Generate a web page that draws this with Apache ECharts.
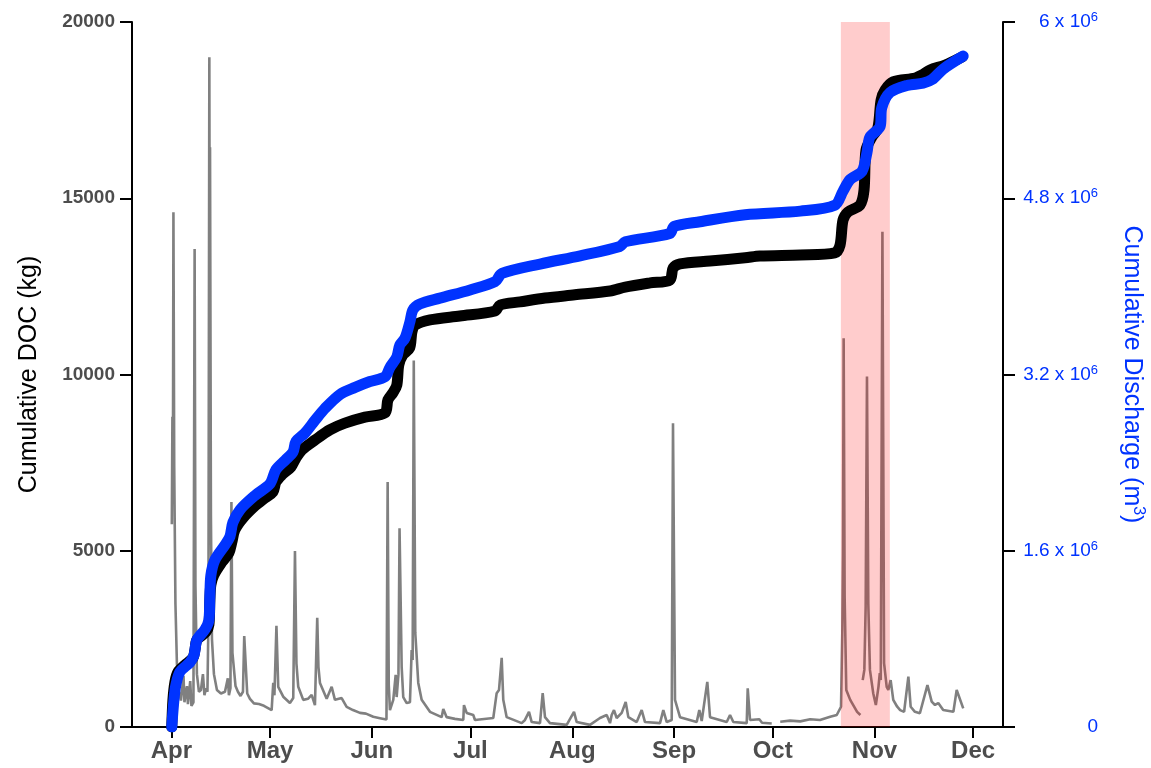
<!DOCTYPE html>
<html>
<head>
<meta charset="utf-8">
<script src="https://cdn.jsdelivr.net/npm/echarts@6/dist/echarts.min.js"></script>
<style>
  html, body { margin: 0; padding: 0; background: #fff; }
  #chart { width: 1151px; height: 768px; }
</style>
</head>
<body>
<div id="chart"></div>
<script>
// x values are days since 1 April
const monthStarts = [0, 30, 61, 91, 122, 153, 183, 214, 244];
const monthLabels = ['Apr', 'May', 'Jun', 'Jul', 'Aug', 'Sep', 'Oct', 'Nov', 'Dec'];
const rightTickLabels = ['0', '1.6', '3.2', '4.8', '6'];

// shaded storm window (days since 1 April)
const shadeStart = 203.75;
const shadeEnd = 218.66;

// instantaneous DOC signal (grey), null = gap in record
const docSignal = [
  [0.12, 5750], [0.30, 8800], [0.46, 7400], [0.61, 14600], [0.85, 7400], [1.22, 3500],
  [1.67, 1800], [2.28, 1000], [2.89, 750], [3.68, 1450], [3.96, 700], [4.41, 1000],
  [4.72, 1160], [5.02, 650], [5.72, 1300], [6.09, 600], [6.70, 700], [7.06, 13560],
  [7.31, 4000], [7.76, 1500], [8.37, 1000], [8.98, 1050], [9.59, 1500], [10.05, 900],
  [10.50, 1100], [10.96, 1000], [11.26, 3000], [11.54, 19000], [11.66, 12000], [11.75, 16450],
  [12.02, 6000], [12.33, 2500], [12.94, 1500], [13.85, 1050], [15.07, 950], [16.29, 1000],
  [17.17, 1380], [17.50, 900], [17.96, 1100], [18.26, 6380], [18.57, 2100], [19.51, 1160],
  [20.24, 1000], [21.04, 880], [21.77, 1000], [22.16, 2580], [23.07, 950], [23.90, 800],
  [25.11, 670], [26.64, 650], [28.16, 600], [30.50, 480], [30.99, 1250], [31.35, 900],
  [31.96, 2870], [32.51, 1140], [34.03, 860], [36.07, 680], [37.08, 820], [37.60, 4990],
  [38.05, 1800], [38.60, 1140], [40.12, 770], [41.55, 800], [42.68, 910], [43.68, 620],
  [44.38, 3100], [44.75, 1700], [45.21, 1250], [47.25, 800], [48.77, 1140], [49.77, 770],
  [51.81, 820], [53.33, 570], [55.25, 480], [57.38, 400], [59.21, 380], [61.43, 290],
  [63.47, 250], [65.45, 210], [65.81, 6950], [66.15, 1200], [66.51, 480], [67.52, 770],
  [68.25, 1480], [68.55, 850], [69.10, 1500], [69.43, 5640], [70.08, 1700], [70.56, 850],
  [71.60, 680], [72.60, 700], [73.12, 2180], [73.42, 1900], [73.76, 10400], [74.22, 2670],
  [75.13, 1250], [76.16, 770], [78.69, 430], [82.25, 280], [82.74, 510], [83.77, 280],
  [86.30, 230], [88.83, 200], [89.04, 620], [89.86, 400], [91.87, 340], [92.39, 200],
  [97.96, 255], [98.99, 960], [99.70, 1050], [100.52, 1960], [101.00, 770], [102.04, 280],
  [106.61, 110], [107.61, 200], [108.83, 430], [109.65, 140], [112.18, 110], [113.00, 960],
  [113.70, 280], [115.22, 110], [120.30, 60], [122.53, 430], [123.35, 140], [127.40, 60],
  [130.44, 255], [132.48, 340], [133.49, 110], [134.00, 340], [134.70, 480], [135.52, 255],
  [137.05, 400], [138.26, 710], [139.06, 280], [141.61, 140], [143.13, 480], [144.14, 140],
  [148.71, 110], [149.71, 480], [150.75, 140], [152.27, 200], [152.66, 8620], [153.27, 770],
  [154.79, 280], [159.88, 140], [160.67, 480], [161.40, 170], [163.10, 1280], [163.93, 280],
  [169.01, 140], [170.02, 340], [171.02, 140], [175.10, 110], [175.40, 1100], [176.10, 200],
  [178.93, 220], [179.76, 120], [182.71, 100],
  [184.0, null],
  [185.3, 150], [188.3, 180], [191.4, 160], [194.4, 220], [197.4, 200], [200.5, 290],
  [202.5, 340], [203.0, 390], [203.8, 575], [204.2, 2750], [204.4, 4900], [204.6, 11030],
  [204.9, 3700], [205.4, 1050], [206.6, 770], [208.7, 430], [209.7, 340],
  [210.0, null],
  [210.4, 1330], [210.9, 1620], [211.3, 3410], [211.7, 9940], [212.1, 3500], [212.6, 1620],
  [213.6, 960], [214.4, 625], [215.2, 1140], [215.6, 1530], [215.9, 1330], [216.4, 14050],
  [216.9, 1815], [217.7, 1140], [218.2, 1050], [218.9, 1330], [219.7, 770], [220.9, 575],
  [221.8, 480], [223.0, 430], [224.3, 1430], [225.0, 575], [226.3, 430], [227.8, 390],
  [230.1, 1190], [231.4, 720], [232.4, 625], [233.4, 680], [234.9, 480], [238.0, 430],
  [239.0, 1050], [239.5, 1000], [241.0, 530]
];

// cumulative DOC (kg)
const docCumulative = [
  [0.1, 0], [0.46, 770], [1.07, 1280], [1.98, 1560], [4.11, 1760], [6.54, 1960],
  [7.15, 2180], [7.76, 2470], [10.5, 2700], [11.4, 2900], [11.7, 3600], [12.0, 4030],
  [12.9, 4310], [15.4, 4680], [17.5, 4940], [18.4, 5250], [19.3, 5590], [21.8, 5930],
  [25.4, 6270], [28.5, 6500], [30.9, 6670], [31.8, 6950], [33.6, 7150], [36.4, 7380],
  [37.9, 7630], [39.7, 7860], [43.7, 8140], [48.2, 8430], [52.8, 8620], [58.9, 8790],
  [65.0, 8910], [65.9, 9280], [67.4, 9480], [68.6, 9700], [69.2, 10270], [70.4, 10550],
  [72.5, 10750], [73.2, 11210], [74.1, 11400], [78.7, 11550], [87.8, 11660], [98.5, 11800],
  [100.0, 11970], [106.1, 12060], [113.7, 12170], [122.8, 12260], [133.5, 12370], [138.1, 12480],
  [145.7, 12600], [151.7, 12680], [152.7, 13020], [154.8, 13140], [163.9, 13220], [174.6, 13310],
  [179.1, 13360], [191.4, 13390], [201.9, 13450], [203.5, 13670], [204.4, 14380], [205.9, 14610],
  [209.6, 14810], [210.8, 15230], [211.4, 16370], [213.2, 16740], [215.0, 16990], [216.0, 17790],
  [217.2, 18070], [219.6, 18300], [226.4, 18410], [228.5, 18500], [230.9, 18640], [235.5, 18780],
  [240.7, 19010]
];

// cumulative discharge (m3)
const dischargeCumulative = [
  [0.1, 0], [0.76, 0.245e6], [1.37, 0.384e6], [2.59, 0.50e6], [5.63, 0.587e6], [6.85, 0.65e6],
  [7.76, 0.79e6], [10.2, 0.885e6], [11.4, 0.97e6], [11.7, 1.195e6], [12.0, 1.376e6], [13.2, 1.515e6],
  [16.3, 1.653e6], [17.8, 1.728e6], [18.7, 1.856e6], [20.9, 1.973e6], [25.4, 2.101e6], [30.0, 2.208e6],
  [31.8, 2.336e6], [34.6, 2.421e6], [37.0, 2.496e6], [37.9, 2.592e6], [40.6, 2.667e6], [43.7, 2.784e6],
  [46.7, 2.891e6], [51.3, 3.019e6], [55.9, 3.083e6], [60.4, 3.136e6], [65.0, 3.179e6], [66.5, 3.264e6],
  [68.6, 3.36e6], [69.5, 3.467e6], [71.1, 3.531e6], [72.6, 3.68e6], [73.5, 3.787e6], [75.6, 3.84e6],
  [81.7, 3.893e6], [90.9, 3.968e6], [98.5, 4.043e6], [100.6, 4.117e6], [112.2, 4.203e6], [124.4, 4.277e6],
  [136.5, 4.363e6], [138.1, 4.405e6], [151.7, 4.48e6], [153.0, 4.544e6], [160.9, 4.587e6], [174.6, 4.651e6],
  [191.4, 4.683e6], [201.9, 4.736e6], [204.4, 4.864e6], [206.6, 4.971e6], [210.2, 5.045e6], [211.7, 5.216e6],
  [212.6, 5.355e6], [215.7, 5.451e6], [216.2, 5.621e6], [218.7, 5.76e6], [223.9, 5.824e6], [228.8, 5.845e6],
  [231.5, 5.877e6], [234.9, 5.973e6], [241.0, 6.091e6]
];

const FONT = 'Liberation Sans, Arial, Helvetica, sans-serif';
const BLUE = '#0033ff';
const LABEL_GREY = '#4d4d4d';

const chart = echarts.init(document.getElementById('chart'), null, { renderer: 'canvas' });

const axisLineStyle = { show: true, onZero: false, lineStyle: { color: '#000', width: 2 } };
const axisTickStyle = { show: true, inside: false, length: 12, lineStyle: { color: '#000', width: 2 } };

// translucent red band across the whole plot height, drawn over the grey signal
function renderShade(params, api) {
  const yMax = 20000;
  const topLeft = api.coord([api.value(0), yMax]);
  const bottomRight = api.coord([api.value(1), 0]);
  return {
    type: 'rect',
    shape: {
      x: topLeft[0],
      y: topLeft[1],
      width: bottomRight[0] - topLeft[0],
      height: bottomRight[1] - topLeft[1]
    },
    style: { fill: 'rgba(255,0,0,0.2)' }
  };
}

chart.setOption({
  animation: false,
  backgroundColor: '#fff',
  grid: {
    left: 132, right: 148, top: 22, bottom: 41,
    containLabel: false,
    outerBoundsMode: 'none'
  },
  xAxis: {
    type: 'value',
    min: -12.0,
    max: 253.1,
    splitLine: { show: false },
    axisLine: axisLineStyle,
    axisTick: { ...axisTickStyle, length: 11, customValues: monthStarts },
    axisLabel: {
      customValues: monthStarts,
      margin: 12,
      fontFamily: FONT,
      fontSize: 24,
      fontWeight: 'bold',
      color: LABEL_GREY,
      formatter: (v) => monthLabels[monthStarts.indexOf(Math.round(v))] || ''
    }
  },
  yAxis: [
    {
      type: 'value',
      position: 'left',
      min: 0,
      max: 20000,
      interval: 5000,
      splitLine: { show: false },
      axisLine: axisLineStyle,
      axisTick: axisTickStyle,
      axisLabel: {
        margin: 17,
        fontFamily: FONT,
        fontSize: 19,
        fontWeight: 'bold',
        color: LABEL_GREY,
        formatter: (v) => String(v)
      },
      name: 'Cumulative DOC (kg)',
      nameLocation: 'middle',
      nameGap: 90,
      nameRotate: 90,
      nameTextStyle: { fontFamily: FONT, fontSize: 25, color: '#000' }
    },
    {
      type: 'value',
      position: 'right',
      min: 0,
      max: 6.4e6,
      interval: 1.6e6,
      splitLine: { show: false },
      axisLine: axisLineStyle,
      axisTick: axisTickStyle,
      axisLabel: {
        margin: 95,
        align: 'right',
        color: BLUE,
        formatter: (v) => {
          const lbl = rightTickLabels[Math.round(v / 1.6e6)];
          return lbl === '0' ? '{n|0}' : '{n|' + lbl + ' x 10}{s|6}';
        },
        rich: {
          n: { fontFamily: FONT, fontSize: 19, color: BLUE, lineHeight: 22 },
          s: { fontFamily: FONT, fontSize: 13, color: BLUE, lineHeight: 13, verticalAlign: 'top' }
        }
      },
      name: '{t|Cumulative Discharge (m}{s|3}{t|)}',
      nameLocation: 'middle',
      nameGap: 115,
      nameRotate: -90,
      nameTextStyle: {
        rich: {
          t: { fontFamily: FONT, fontSize: 25, color: BLUE, lineHeight: 28 },
          s: { fontFamily: FONT, fontSize: 16, color: BLUE, lineHeight: 16, verticalAlign: 'top' }
        }
      }
    }
  ],
  series: [
    {
      name: 'DOC signal',
      type: 'line',
      yAxisIndex: 0,
      z: 2,
      data: docSignal,
      showSymbol: false,
      connectNulls: false,
      lineStyle: { color: '#808080', width: 2.6 }
    },
    {
      name: 'storm',
      type: 'custom',
      yAxisIndex: 0,
      z: 3,
      silent: true,
      renderItem: renderShade,
      encode: { x: [0, 1] },
      data: [[shadeStart, shadeEnd]]
    },
    {
      name: 'Cumulative DOC',
      type: 'line',
      yAxisIndex: 0,
      z: 4,
      data: docCumulative,
      showSymbol: false,
      smooth: 0.3,
      lineStyle: { color: '#000', width: 11, cap: 'round', join: 'round' }
    },
    {
      name: 'Cumulative Discharge',
      type: 'line',
      yAxisIndex: 1,
      z: 5,
      data: dischargeCumulative,
      showSymbol: false,
      smooth: 0.3,
      lineStyle: { color: BLUE, width: 11, cap: 'round', join: 'round' }
    }
  ]
});
</script>
</body>
</html>
